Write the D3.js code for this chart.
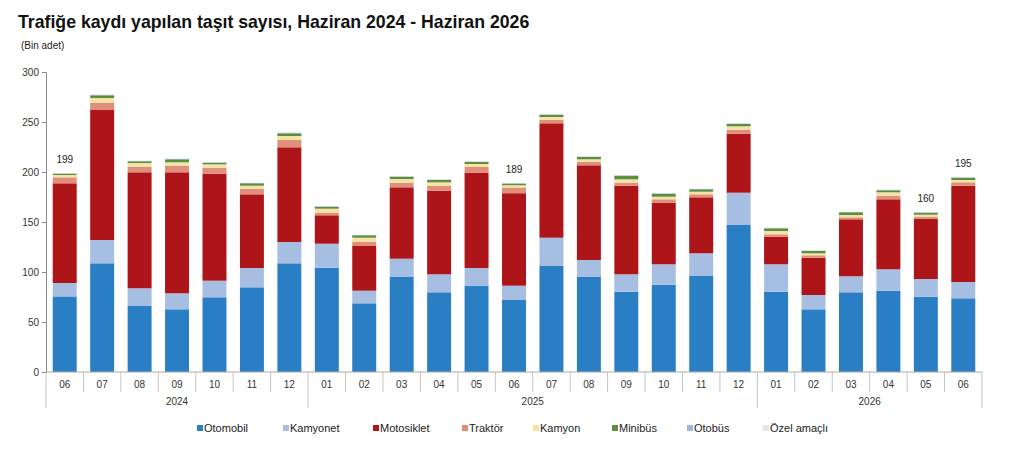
<!DOCTYPE html>
<html>
<head>
<meta charset="utf-8">
<script src="https://cdn.jsdelivr.net/npm/d3@7"></script>
<style>
  body { margin: 0; background: #fff; font-family: "Liberation Sans", Arial, sans-serif; }
</style>
</head>
<body>
<script>
// months and years on the x axis
const months = ["06","07","08","09","10","11","12","01","02","03","04","05","06","07","08","09","10","11","12","01","02","03","04","05","06"];
const years = [
    { label: "2024", from: 0, to: 7 },
    { label: "2025", from: 7, to: 19 },
    { label: "2026", from: 19, to: 25 }
];
const seriesNames = ["Otomobil", "Kamyonet", "Motosiklet", "Traktör", "Kamyon", "Minibüs", "Otobüs", "Özel amaçlı"];

// values (thousand units)
const otomobil   = [75.6, 108.7, 66, 62.7, 74.7, 84.7, 108.7, 104.3, 68.7, 95, 79.7, 86.3, 72, 106, 95, 80.3, 87.3, 96, 147, 80.3, 62.7, 79.7, 81.3, 75.3, 73.7];
const kamyonet   = [13.4, 23.3, 17.7, 16, 16.6, 19.3, 21.3, 24, 12.6, 18.3, 18, 17.7, 14.3, 28.3, 17, 17.4, 20.4, 22.7, 32.3, 27.4, 14.3, 16, 21.4, 17.7, 16.3];
const motosiklet = [99.7, 130, 116, 121, 107, 73.7, 94.7, 28.4, 44.7, 71.4, 83.6, 95.3, 92.5, 114.4, 94.7, 88.6, 61.6, 56, 59, 27.6, 37.3, 57, 70, 60.3, 96.3];
const traktor    = [6.0, 7.3, 5.6, 6.6, 5.7, 5.3, 7.3, 2.6, 4.3, 4.6, 4.7, 5.7, 5.7, 3.3, 3.3, 3, 3.4, 3, 4, 2.4, 2.4, 2, 3.3, 2, 3.4];
const kamyon     = [2.3, 4.7, 3.7, 3.4, 3.7, 3.3, 4, 4, 4, 3.7, 3.7, 3, 2.3, 3, 2.7, 3.4, 2.6, 2.6, 3.4, 3.3, 2, 2.3, 3.7, 2, 2.3];
const minibus    = [1.3, 2.7, 1.7, 3.0, 1.6, 2.4, 2.7, 2, 2.4, 2.3, 2.3, 2, 1.7, 2.3, 2.3, 3.6, 3, 2.4, 2.3, 2.7, 2.3, 2.7, 2, 2, 2.3];
const otobus     = [0.4, 0.5, 0.4, 0.4, 0.4, 0.4, 0.5, 0.4, 0.4, 0.4, 0.4, 0.4, 0.3, 0.4, 0.4, 0.4, 0.4, 0.4, 0.5, 0.4, 0.4, 0.4, 0.4, 0.4, 0.4];
const ozel       = [0.3, 0.3, 0.3, 0.3, 0.3, 0.3, 0.3, 0.3, 0.3, 0.3, 0.3, 0.3, 0.2, 0.3, 0.3, 0.3, 0.3, 0.3, 0.3, 0.3, 0.3, 0.3, 0.3, 0.3, 0.3];

// total labels shown above a few bars
const labelIndex = [0, 12, 23, 24];
const labelText  = ["199", "189", "160", "195"];

const yTicks = [0, 50, 100, 150, 200, 250, 300];

const colors = ["#2a7fc4", "#a7bee3", "#ae1519", "#df8f7b", "#f6e2a4", "#5a8f3f", "#9cb7d8", "#e6e6e6"];

window.onload = main;

function main() {
    const W = 1024, H = 458;
    const left = 46, right = 982, top = 72, bottom = 372;

    const svg = d3.select("body").append("svg")
        .attr("width", W)
        .attr("height", H)
        .style("font-family", "'Liberation Sans', Arial, sans-serif");

    // Title
    svg.append("text")
        .attr("x", 18).attr("y", 28)
        .style("font-size", "17.7px")
        .style("font-weight", "bold")
        .attr("fill", "#111")
        .text("Trafiğe kaydı yapılan taşıt sayısı, Haziran 2024 - Haziran 2026");
    svg.append("text")
        .attr("x", 21).attr("y", 49)
        .style("font-size", "10px")
        .attr("fill", "#222")
        .text("(Bin adet)");

    // build rows for stacking
    const series = [otomobil, kamyonet, motosiklet, traktor, kamyon, minibus, otobus, ozel];
    const rows = months.map((m, i) => {
        const r = { i };
        seriesNames.forEach((s, k) => r[s] = series[k][i]);
        return r;
    });
    const stacked = d3.stack().keys(seriesNames)(rows);

    const x = d3.scaleBand()
        .domain(d3.range(months.length))
        .range([left, right])
        .paddingInner(0.36)
        .paddingOuter(0.18);
    const y = d3.scaleLinear().domain([0, 300]).range([bottom, top]);
    const color = d3.scaleOrdinal().domain(seriesNames).range(colors);

    // bars
    svg.append("g").selectAll("g")
        .data(stacked)
        .join("g")
        .attr("fill", d => color(d.key))
        .selectAll("rect")
        .data(d => d)
        .join("rect")
        .attr("x", d => x(d.data.i))
        .attr("y", d => y(d[1]))
        .attr("width", x.bandwidth())
        .attr("height", d => y(d[0]) - y(d[1]));

    // total labels
    const tops = stacked[stacked.length - 1];
    svg.append("g").selectAll("text")
        .data(labelIndex)
        .join("text")
        .attr("x", d => x(d) + x.bandwidth() / 2)
        .attr("y", d => y(tops[d][1]) - 10)
        .attr("text-anchor", "middle")
        .style("font-size", "10px")
        .attr("fill", "#222")
        .text((d, k) => labelText[k]);

    // y axis
    const yAxis = svg.append("g")
        .attr("transform", `translate(${left},0)`)
        .call(d3.axisLeft(y).tickValues(yTicks).tickSize(4).tickPadding(3));
    yAxis.selectAll("path, line").attr("stroke", "#888");
    yAxis.selectAll("text").style("font-size", "10px").attr("fill", "#333")
        .style("font-family", "'Liberation Sans', Arial, sans-serif");

    // x axis line
    svg.append("line")
        .attr("x1", left).attr("x2", right)
        .attr("y1", bottom).attr("y2", bottom)
        .attr("stroke", "#aaa");

    // month separators
    const step = x.step();
    const edges = d3.range(months.length + 1).map(i => left + i * step);
    const yearEdges = [0, 7, 19, 25];
    svg.append("g").selectAll("line")
        .data(edges)
        .join("line")
        .attr("x1", d => d).attr("x2", d => d)
        .attr("y1", bottom)
        .attr("y2", (d, i) => yearEdges.includes(i) ? 408 : 392)
        .attr("stroke", "#c4c4c4");

    // month labels
    svg.append("g").selectAll("text")
        .data(months)
        .join("text")
        .attr("x", (d, i) => x(i) + x.bandwidth() / 2)
        .attr("y", 388)
        .attr("text-anchor", "middle")
        .style("font-size", "10px")
        .attr("fill", "#333")
        .text(d => d);

    // year labels
    svg.append("g").selectAll("text")
        .data(years)
        .join("text")
        .attr("x", d => (edges[d.from] + edges[d.to]) / 2)
        .attr("y", 405)
        .attr("text-anchor", "middle")
        .style("font-size", "10px")
        .attr("fill", "#333")
        .text(d => d.label);

    // legend
    const legendX = [197, 283, 373, 462, 533, 612, 687, 763];
    const legend = svg.append("g");
    seriesNames.forEach((name, k) => {
        const g = legend.append("g").attr("transform", `translate(${legendX[k]},428)`);
        g.append("rect")
            .attr("x", 0).attr("y", -3)
            .attr("width", 6).attr("height", 6)
            .attr("fill", color(name));
        g.append("text")
            .attr("x", 7).attr("y", 4)
            .style("font-size", "11px")
            .attr("fill", "#222")
            .text(name);
    });
}
</script>
</body>
</html>
